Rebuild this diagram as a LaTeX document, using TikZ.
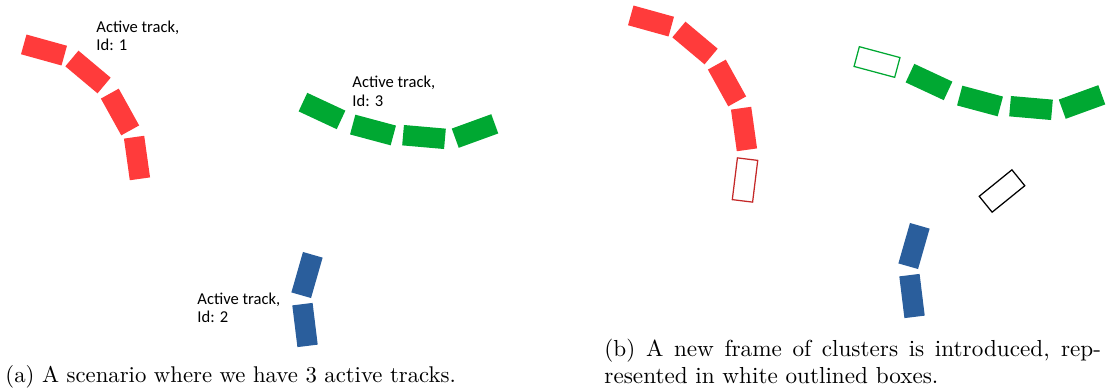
\documentclass[tikz,border=0pt]{standalone}
\usepackage{fontspec}
\newfontfamily\labfont{Carlito}
\definecolor{tred}{RGB}{255,59,59}
\definecolor{tgreen}{RGB}{0,168,50}
\definecolor{tblue}{RGB}{42,94,156}
\definecolor{tredline}{RGB}{196,40,40}
\begin{document}
\begin{tikzpicture}[x=0.44pt,y=-0.44pt,
  trk/.style={rectangle, inner sep=0pt, minimum width=18.5pt, minimum height=9pt},
  redbox/.style={trk, fill=tred},
  greenbox/.style={trk, fill=tgreen},
  bluebox/.style={trk, fill=tblue},
  redout/.style={trk, draw=tredline, line width=0.55pt},
  greenout/.style={trk, draw=tgreen, line width=0.55pt},
  blackout/.style={trk, draw=black, line width=0.55pt},
  lab/.style={font=\labfont\fontsize{7.3}{8.1}\selectfont, align=left, anchor=base west, inner sep=0pt},
  captxt/.style={font=\fontsize{10}{11.6}\selectfont, anchor=base west, inner sep=0pt},
  captxtb/.style={captxt, font=\fontsize{10.2}{11.6}\selectfont}]
\useasboundingbox (0,0) rectangle (1112,391);
% ---- left panel ----
\node[redbox, rotate=-15.5] (ra1) at (44,50) {};
\node[redbox, rotate=-40] (ra2) at (88,72) {};
\node[redbox, rotate=-61] (ra3) at (120,112) {};
\node[redbox, rotate=-82] (ra4) at (137,158) {};
\node[greenbox, rotate=-25] (ga1) at (322,111) {};
\node[greenbox, rotate=-15] (ga2) at (373,130) {};
\node[greenbox, rotate=-5] (ga3) at (424,137) {};
\node[greenbox, rotate=20] (ga4) at (475,131) {};
\node[bluebox, rotate=-106] (ba1) at (307,275) {};
\node[bluebox, rotate=-83] (ba2) at (305,325) {};
\node[lab] (l1) at (96,50.5) {Active track,\\Id: 1};
\node[lab] (l3) at (352,106) {Active track,\\Id: 3};
\node[lab] (l2) at (197,322.5) {Active track,\\Id: 2};
% ---- right panel ----
\node[redbox, rotate=-15.5] (rb1) at (651,21) {};
\node[redbox, rotate=-40] (rb2) at (695,43) {};
\node[redbox, rotate=-61] (rb3) at (727,83) {};
\node[redbox, rotate=-82] (rb4) at (744,129) {};
\node[redout, rotate=-97] (rb5) at (745,180) {};
\node[greenout, rotate=-15] (gb0) at (877,62) {};
\node[greenbox, rotate=-25] (gb1) at (929,82) {};
\node[greenbox, rotate=-15] (gb2) at (980,101) {};
\node[greenbox, rotate=-5] (gb3) at (1031,108) {};
\node[greenbox, rotate=20] (gb4) at (1082,102) {};
\node[blackout, rotate=39] (kb) at (1002,191) {};
\node[bluebox, rotate=-106] (bb1) at (914,246) {};
\node[bluebox, rotate=-83] (bb2) at (912,296) {};
% ---- captions ----
\node[captxt] (capa) at (5,382) {(a) A scenario where we have 3 active tracks.};
\node[captxtb, align=left] (capb) at (604,383) {\makebox[218.5pt][s]{(b) A new frame of clusters is introduced, rep-}\\resented in white outlined boxes.};
\end{tikzpicture}
\end{document}
